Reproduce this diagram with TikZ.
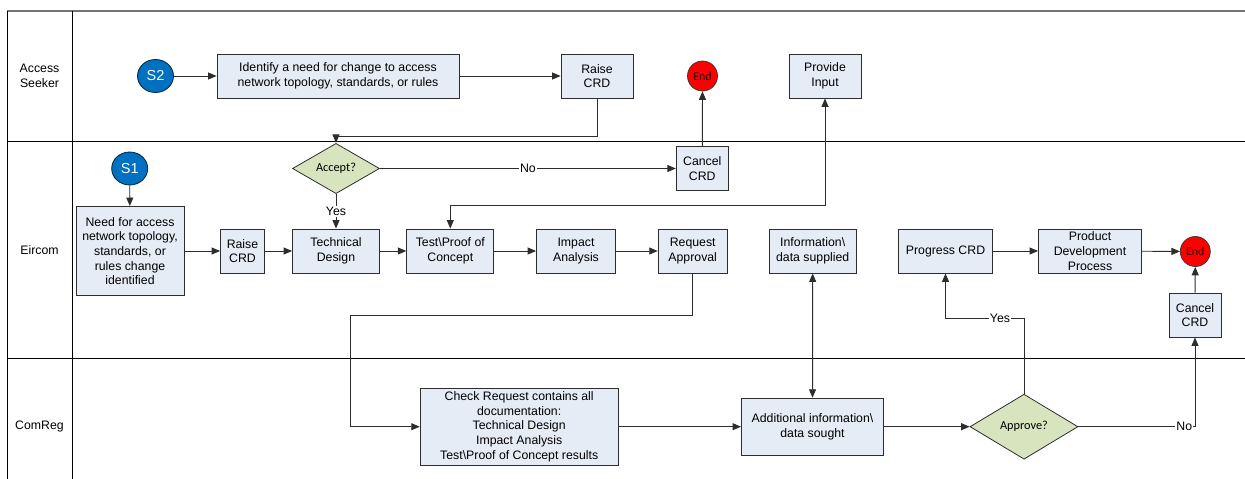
\documentclass[tikz,border=0pt]{standalone}
\usepackage{fontspec}
\setmainfont{Liberation Sans}
\newfontfamily\carlito{Carlito}
\usetikzlibrary{shapes.geometric,arrows.meta}
\definecolor{boxfill}{RGB}{230,236,246}
\definecolor{diafill}{RGB}{215,228,189}
\definecolor{startblue}{RGB}{0,112,192}
\definecolor{endred}{RGB}{255,0,0}
\definecolor{linecol}{RGB}{45,45,45}
\newcommand{\mainf}{\fontsize{12.3}{14.7}\selectfont}
\tikzset{
  box/.style={draw=linecol, fill=boxfill, line width=0.9pt, inner sep=0pt, align=center, font=\mainf},
  dia/.style={diamond, draw=linecol, fill=diafill, line width=0.8pt, inner sep=0pt, font=\carlito\fontsize{12.3}{14}\selectfont},
  startc/.style={ellipse, draw=black!70!startblue, fill=startblue, line width=0.8pt, minimum width=36pt, minimum height=33pt, inner sep=0pt, text=white, font=\fontsize{14.5}{16}\selectfont},
  endc/.style={circle, draw=black!80, fill=endred, line width=0.7pt, minimum size=30pt, inner sep=0pt, text=black!85!red, font=\carlito\fontsize{12}{13}\selectfont},
  arr/.style={draw=linecol, line width=0.9pt, -{Triangle[length=8.5pt,width=7pt]}},
  arrb/.style={draw=linecol, line width=0.9pt, {Triangle[length=8.5pt,width=7pt]}-{Triangle[length=8.5pt,width=7pt]}},
  lbl/.style={fill=white, inner sep=1pt, font=\mainf},
  lane/.style={draw=black, line width=0.9pt},
  lanelbl/.style={align=center, font=\mainf}
}
\begin{document}
\begin{tikzpicture}[x=1pt,y=-1pt]
\useasboundingbox (0,0) rectangle (1245,479);
% swimlanes
\draw[draw=black!55, line width=1.3pt] (7,11) -- (1245,11);
\draw[lane] (7,11) -- (7,479);
\draw[lane] (72,11) -- (72,479);
\draw[lane] (7,141.3) -- (1245,141.3);
\draw[lane] (7,358.5) -- (1245,358.5);
\node[lanelbl] (lA) at (39.5,75.5) {Access\\Seeker};
\node[lanelbl] (lE) at (39.5,250) {Eircom};
\node[lanelbl] (lC) at (39.5,426) {ComReg};
% Access Seeker lane
\node[startc] (s2) at (155.5,76) {S2};
\node[box, minimum width=242pt, minimum height=44pt] (ident) at (338,76) {Identify a need for change to access\\network topology, standards, or rules};
\node[box, minimum width=72pt, minimum height=44pt] (raiseA) at (597,76) {Raise\\CRD};
\node[endc] (endA) at (702.5,76) {End};
\node[box, minimum width=72pt, minimum height=44pt] (prov) at (825,76) {Provide\\Input};
% Eircom lane
\node[startc] (s1) at (129.7,168.5) {S1};
\node[box, minimum width=108pt, minimum height=89pt] (need) at (130,251) {Need for access\\network topology,\\standards, or\\rules change\\identified};
\node[box, minimum width=44pt, minimum height=44pt] (raiseE) at (242.5,251) {Raise\\CRD};
\node[box, minimum width=87pt, minimum height=44pt] (tech) at (336,251) {Technical\\Design};
\node[dia, minimum width=87pt, minimum height=32pt] (acc) at (336,168.5) {Accept?};
\node[box, minimum width=87pt, minimum height=44pt] (test) at (450.3,251) {Test\textbackslash Proof of\\Concept};
\node[box, minimum width=79pt, minimum height=44pt] (imp) at (576,251) {Impact\\Analysis};
\node[box, minimum width=69pt, minimum height=44pt] (req) at (692.7,251) {Request\\Approval};
\node[box, minimum width=87pt, minimum height=44pt] (info) at (812.7,251) {Information\textbackslash\\data supplied};
\node[box, minimum width=52pt, minimum height=44pt] (cancA) at (702.3,168.5) {Cancel\\CRD};
\node[box, minimum width=94pt, minimum height=44pt] (prog) at (945.5,251) {Progress CRD};
\node[box, minimum width=103pt, minimum height=44pt] (pdp) at (1090,251) {Product\\Development\\Process};
\node[endc] (endB) at (1195.3,251.5) {End};
\node[box, minimum width=52pt, minimum height=44pt] (cancB) at (1195,315) {Cancel\\CRD};
% ComReg lane
\node[box, minimum width=198pt, minimum height=77pt] (check) at (519.2,426.7) {Check Request contains all\\documentation:\\Technical Design\\Impact Analysis\\Test\textbackslash Proof of Concept results};
\node[box, minimum width=142pt, minimum height=57pt] (add) at (812.5,426.7) {Additional information\textbackslash\\data sought};
\node[dia, minimum width=108pt, minimum height=65pt] (appr) at (1024,426.7) {Approve?};
% connectors
\draw[arr] (s2) -- (ident);
\draw[arr] (ident) -- (raiseA);
\draw[arr] (raiseA.south) -- ++(0,38) -| (acc.north);
\draw[arr] (acc) -- node[lbl]{No} (cancA);
\draw[arr] (acc) -- node[lbl]{Yes} (tech);
\draw[arr] (cancA) -- (endA);
\draw[arr] (s1) -- (need);
\draw[arr] (need) -- (raiseE);
\draw[arr] (raiseE) -- (tech);
\draw[arr] (tech) -- (test);
\draw[arr] (test) -- (imp);
\draw[arr] (imp) -- (req);
\draw[arrb] (test.north) -- ++(0,-22.7) -| (prov.south);
\draw[arr] (req.south) -- ++(0,42) -- ++(-342.4,0) |- (check.west);
\draw[arr] (check) -- (add);
\draw[arrb] (add) -- (info);
\draw[arr] (add) -- (appr);
\draw[arr] (appr.north) -- ++(0,-75.4) -| node[lbl, pos=0.153]{Yes} (prog.south);
\draw[arr] (appr.east) -| node[lbl, pos=0.454]{No} (cancB.south);
\draw[arr] (cancB) -- (endB);
\draw[arr] (prog) -- (pdp);
\draw[arr] (pdp) -- (endB);
\end{tikzpicture}
\end{document}
